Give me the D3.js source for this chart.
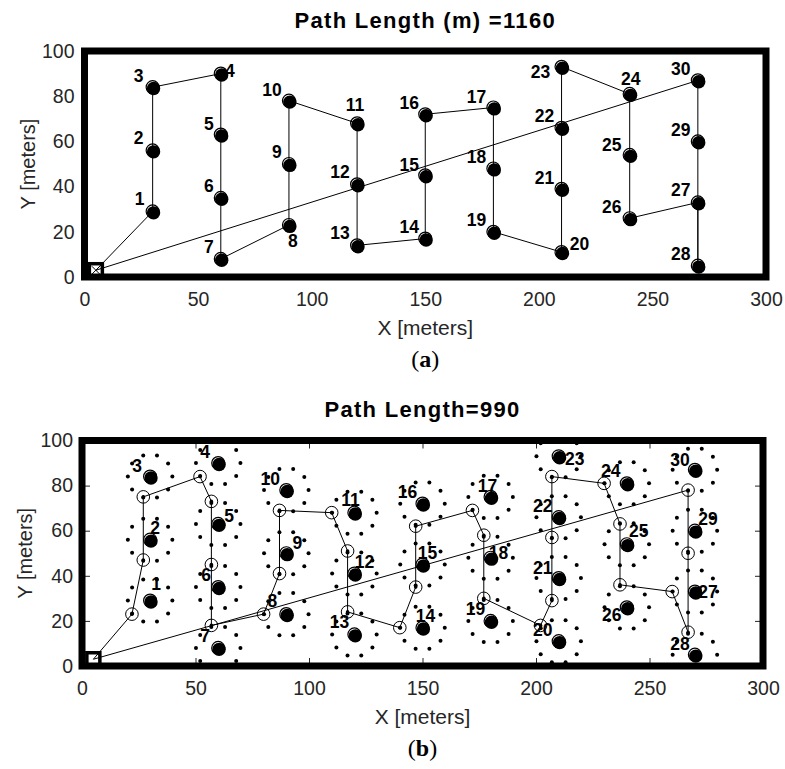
<!DOCTYPE html>
<html>
<head>
<meta charset="utf-8">
<script src="https://cdn.jsdelivr.net/npm/d3@7"></script>
<style>
  body { margin: 0; background: #fff; }
  svg { display: block; font-family: "Liberation Sans", Arial, Helvetica, sans-serif; }
</style>
</head>
<body>
<svg id="fig" width="785" height="769"></svg>
<script>
// ---- data (metres) ----
const nodeIds = [1,2,3,4,5,6,7,8,9,10,11,12,13,14,15,16,17,18,19,20,21,22,23,24,25,26,27,28,29,30];
const sensorX = [30,30,30,60,60,60,60,90,90,90,120,120,120,150,150,150,180,180,180,210,210,210,210,240,240,240,270,270,270,270];
const sensorY = [29,56,84,90,63,35,8,23,50,78,68,41,14,17,45,72,75,48,20,11,39,66,93,81,54,26,33,5,60,87];
// collection stops visited in (b), one per sensor, in visiting order
const stopX = [22,27,27,52,57,57,57,80,87,87,110,117,117,140,147,147,172,177,177,202,207,207,207,230,237,237,260,267,267,267];
const stopY = [23,47,75,84,73,45,18,23,41,69,68,51,24,17,35,62,69,58,30,18,29,57,84,81,63,36,33,15,50,78];
const baseX = [5];
const baseY = [3];
const ringRadius = 9.8;   // candidate stops lie on this ring around each sensor
const ringCount = 10;
const xTicks = [0,50,100,150,200,250,300];
const yTicks = [0,20,40,60,80,100];
const titles = ["Path Length (m) =1160", "Path Length=990"];
const tags = ["a", "b"];

// ---- label placement (pixel offsets of each number from its sensor) ----
const labelOffsetA = [[-13,-12],[-14,-12],[-14,-11],[9,-3],[-12,-11],[-12,-12],[-12,-12],[4,16],[-12,-12],[-17,-11],
  [-2,-18],[-17,-12],[-17,-12],[-16,-12],[-16,-10],[-16,-11],[-17,-11],[-17,-12],[-17,-12],[18,-8],
  [-17,-11],[-17,-12],[-21,5],[1,-15],[-18,-10],[-18,-11],[-17,-12],[-17,-12],[-17,-11],[-17,-11]];
const labelOffsetB = [[6,-17],[5,-12],[-13,-11],[-13,-11],[11,-8],[-12,-12],[-13,-12],[-14,-13],[11,-10],[-16,-11],
  [-4,-13],[10,-12],[-15,-12],[3,-12],[5,-12],[-15,-12],[-3,-11],[8,-5],[-15,-12],[-16,-11],
  [-16,-10],[-16,-11],[16,3],[-16,-12],[12,-13],[-15,8],[13,0],[-15,-11],[13,-12],[-15,-10]];

const svg = d3.select("#fig");
const ink = "#262626";

const sensors = nodeIds.map((id, i) => ({ id, x: sensorX[i], y: sensorY[i] }));
const base = { x: baseX[0], y: baseY[0] };

function drawPanel(cfg) {
  const x = d3.scaleLinear().domain([0, 300]).range([cfg.left, cfg.right]);
  const y = d3.scaleLinear().domain([0, 100]).range([cfg.bottom, cfg.top]);
  const g = svg.append("g");

  const clipId = "clip-" + cfg.tag;
  svg.append("defs").append("clipPath").attr("id", clipId)
    .append("rect")
    .attr("x", x(0)).attr("y", y(100))
    .attr("width", x(300) - x(0)).attr("height", y(0) - y(100));

  const plot = g.append("g").attr("clip-path", `url(#${clipId})`);

  // candidate stops around each sensor
  if (cfg.withStops) {
    const cand = [];
    sensors.forEach(s => {
      for (let k = 0; k < ringCount; k++) {
        const a = 2 * Math.PI * k / ringCount;
        cand.push({ x: s.x + ringRadius * Math.cos(a), y: s.y + ringRadius * Math.sin(a) });
      }
    });
    plot.selectAll("circle.cand").data(cand).join("circle")
      .attr("class", "cand")
      .attr("cx", d => x(d.x)).attr("cy", d => y(d.y))
      .attr("r", 2).attr("fill", "#000");
  }

  // tour
  const tourPts = [base].concat(cfg.route, [base]);
  const line = d3.line().x(d => x(d.x)).y(d => y(d.y));
  plot.append("path").datum(tourPts)
    .attr("d", line).attr("fill", "none")
    .attr("stroke", "#000").attr("stroke-width", 1);

  if (cfg.withStops) {
    plot.selectAll("circle.stop").data(cfg.route).join("circle")
      .attr("class", "stop")
      .attr("cx", d => x(d.x)).attr("cy", d => y(d.y))
      .attr("r", 6.3).attr("fill", "none").attr("stroke", "#000").attr("stroke-width", 1);
    plot.selectAll("circle.stopc").data(cfg.route).join("circle")
      .attr("class", "stopc")
      .attr("cx", d => x(d.x)).attr("cy", d => y(d.y))
      .attr("r", 1.8).attr("fill", "#000");
  }

  // sensor markers
  const sm = plot.selectAll("g.sensor").data(sensors).join("g")
    .attr("class", "sensor")
    .attr("transform", d => `translate(${x(d.x)},${y(d.y)})`);
  sm.append("circle").attr("r", 6.5).attr("fill", "none").attr("stroke", "#000").attr("stroke-width", 1.2);
  sm.append("circle").attr("cx", 0.9).attr("cy", 1.4).attr("r", 6.7).attr("fill", "#000");

  // sensor numbers
  g.selectAll("text.nid").data(sensors).join("text")
    .attr("class", "nid")
    .attr("x", (d, i) => x(d.x) + cfg.labelOffset[i][0])
    .attr("y", (d, i) => y(d.y) + cfg.labelOffset[i][1])
    .attr("text-anchor", "middle").attr("dominant-baseline", "central")
    .attr("font-size", 17.5).attr("font-weight", "bold").attr("fill", "#000")
    .text(d => d.id);

  // ticks (inward) and tick labels
  const bottomAxis = d3.axisBottom(x).tickValues(xTicks).tickFormat(d3.format("d"))
    .tickSizeInner(cfg.ticks ? -8 : 0).tickSizeOuter(0).tickPadding(15);
  const leftAxis = d3.axisLeft(y).tickValues(yTicks).tickFormat(d3.format("d"))
    .tickSizeInner(cfg.ticks ? -8 : 0).tickSizeOuter(0).tickPadding(cfg.ticks ? 9 : 10);
  const gx = g.append("g").attr("transform", `translate(0,${y(0)})`).call(bottomAxis);
  const gy = g.append("g").attr("transform", `translate(${x(0)},0)`).call(leftAxis);
  [gx, gy].forEach(a => {
    a.select(".domain").remove();
    a.selectAll("line").attr("stroke", ink);
    a.selectAll("text").attr("fill", ink).attr("font-size", 19.5)
      .attr("font-family", "'Liberation Sans', Arial, sans-serif");
  });
  if (cfg.ticks) {
    const topAxis = d3.axisTop(x).tickValues(xTicks.slice(1, -1)).tickFormat("")
      .tickSizeInner(-8).tickSizeOuter(0);
    const rightAxis = d3.axisRight(y).tickValues(yTicks.slice(1, -1)).tickFormat("")
      .tickSizeInner(-8).tickSizeOuter(0);
    const gt = g.append("g").attr("transform", `translate(0,${y(100)})`).call(topAxis);
    const gr = g.append("g").attr("transform", `translate(${x(300)},0)`).call(rightAxis);
    [gt, gr].forEach(a => { a.select(".domain").remove(); a.selectAll("line").attr("stroke", ink); });
    gx.selectAll(".tick").filter(d => d === 0 || d === 300).select("line").remove();
    gy.selectAll(".tick").filter(d => d === 0 || d === 100).select("line").remove();
  }

  // field boundary
  g.append("rect")
    .attr("x", x(0)).attr("y", y(100))
    .attr("width", x(300) - x(0)).attr("height", y(0) - y(100))
    .attr("fill", "none").attr("stroke", "#000").attr("stroke-width", 7);

  // base station marker
  const bx = x(base.x), by = y(base.y);
  g.append("rect")
    .attr("x", bx - 6.5).attr("y", by - 6.5).attr("width", 13).attr("height", 13)
    .attr("fill", "none").attr("stroke", "#000").attr("stroke-width", 3.5);
  if (cfg.baseCross) {
    g.append("path")
      .attr("d", `M${bx - 4},${by - 4}L${bx + 4},${by + 4}M${bx - 4},${by + 4}L${bx + 4},${by - 4}`)
      .attr("stroke", "#000").attr("stroke-width", 1);
  }

  // titles and axis names
  const cx = (x(0) + x(300)) / 2;
  g.append("text").attr("x", cx).attr("y", cfg.titleY)
    .attr("text-anchor", "middle").attr("font-size", 22).attr("font-weight", "bold")
    .attr("letter-spacing", 1.3).attr("fill", "#000")
    .text(cfg.title);
  g.append("text").attr("x", cx).attr("y", y(0) + 58)
    .attr("text-anchor", "middle").attr("font-size", 21).attr("fill", ink)
    .text("X [meters]");
  g.append("text")
    .attr("transform", `translate(${cfg.left - 50},${(y(0) + y(100)) / 2}) rotate(-90)`)
    .attr("text-anchor", "middle").attr("font-size", 20).attr("fill", ink)
    .text("Y [meters]");
  const tag = g.append("text").attr("x", cx).attr("y", y(0) + 90)
    .attr("text-anchor", "middle").attr("font-size", 24).attr("fill", "#000")
    .attr("font-family", "'Liberation Serif', 'DejaVu Serif', serif");
  tag.append("tspan").text("(");
  tag.append("tspan").attr("font-weight", "bold").text(cfg.tag);
  tag.append("tspan").text(")");
}

drawPanel({
  tag: tags[0], title: titles[0], left: 84.5, right: 766, top: 51, bottom: 277, titleY: 28,
  route: sensors, labelOffset: labelOffsetA, withStops: false, ticks: false, baseCross: true
});
drawPanel({
  tag: tags[1], title: titles[1], left: 82, right: 763, top: 440.5, bottom: 666, titleY: 417,
  route: nodeIds.map((id, i) => ({ x: stopX[i], y: stopY[i] })),
  labelOffset: labelOffsetB, withStops: true, ticks: true, baseCross: false
});
</script>
</body>
</html>
